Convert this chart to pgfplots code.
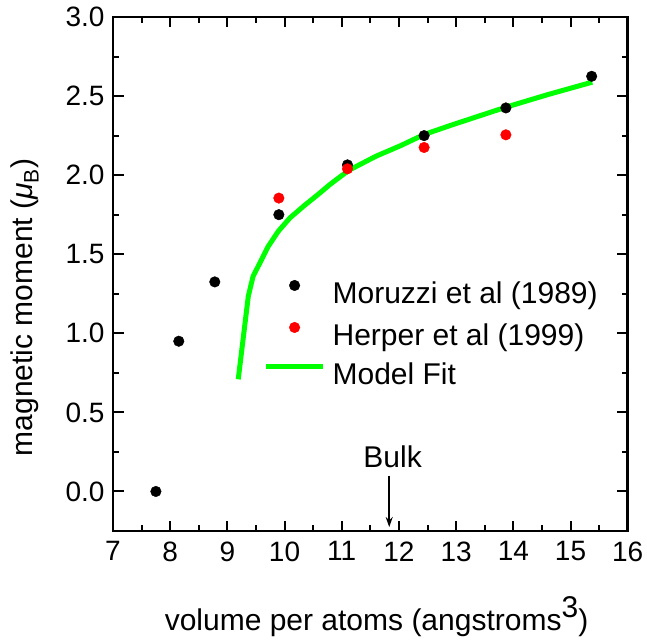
\documentclass[border=0pt]{standalone}
\usepackage{fontspec}
\setmainfont{Liberation Sans}
\usepackage{pgfplots}
\pgfplotsset{compat=1.18}
\usetikzlibrary{arrows.meta}
\definecolor{fitgreen}{RGB}{0,255,0}
\definecolor{hred}{RGB}{255,0,0}
\pgfplotsset{
  dotlegend/.style={legend image code/.code={\draw[yshift=10.7pt,##1] plot coordinates {(28.5pt,0pt)};}},
  linelegend/.style={legend image code/.code={\draw[yshift=10.7pt,##1] (0pt,0pt) -- (57pt,0pt);}},
}
\begin{document}
\begin{tikzpicture}[x=1pt,y=1pt]
\useasboundingbox (0,0) rectangle (647,643);
\begin{axis}[
  at={(113pt,112pt)}, anchor=south west,
  width=514.7pt, height=514pt, scale only axis,
  xmin=7, xmax=16, ymin=-0.25, ymax=3.0,
  xtick={7,8,...,16}, ytick={0,0.5,...,3.0},
  minor x tick num=1, minor y tick num=1,
  tick align=inside,
  major tick length=10.5pt, minor tick length=6pt,
  every tick/.style={black, line width=2pt},
  axis line style={line width=2.5pt},
  /pgf/number format/assume math mode=true,
  yticklabel style={/pgf/number format/.cd, fixed, fixed zerofill, precision=1, /tikz/.cd, font=\fontsize{28}{28}\selectfont, xshift=-5pt},
  xticklabel style={font=\fontsize{28}{28}\selectfont, yshift=-7pt},
  legend style={at={(axis description cs:0.2926,0.488)}, anchor=north west, draw=none, fill=none,
    font=\fontsize{30}{36}\selectfont, row sep=13pt, inner sep=0pt, outer sep=0pt,
    nodes={inner sep=0pt, text height=20pt, text depth=6pt}, column sep=7pt},
  legend cell align=left,
  clip=false,
]
\addplot[only marks, mark=*, mark size=5.3pt, black, mark options={fill=black, draw=black}, dotlegend]
  coordinates {(7.75,0.0) (8.15,0.95) (8.78,1.325) (9.90,1.75) (11.10,2.065) (12.44,2.25) (13.87,2.425) (15.37,2.625)};
\addlegendentry{Moruzzi et al (1989)}
\addplot[only marks, mark=*, mark size=5.3pt, hred, mark options={fill=hred, draw=hred}, dotlegend]
  coordinates {(9.90,1.855) (11.10,2.04) (12.44,2.175) (13.87,2.255)};
\addlegendentry{Herper et al (1999)}
\addplot[fitgreen, line width=5pt, no marks, line join=round, linelegend]
  coordinates {(9.19,0.709) (9.366,1.235) (9.45,1.361) (9.57,1.446) (9.716,1.551) (9.89,1.645) (10.095,1.730) (10.33,1.803) (10.62,1.888) (10.79,1.94) (11.12,2.03) (11.6,2.12) (12.02,2.185) (12.44,2.257) (12.93,2.318) (13.41,2.375) (13.89,2.432) (14.61,2.51) (15.38,2.588)};
\addlegendentry{Model Fit}
\node[anchor=base, font=\fontsize{30}{36}\selectfont] at (axis cs:11.89,0.152) {Bulk};
\draw[-{Stealth[length=10pt,width=7pt]}, line width=1.5pt] (axis cs:11.83,0.1) -- (axis cs:11.83,-0.225);
\node[rotate=90, font=\fontsize{30}{36}\selectfont] at (axis description cs:-0.171,0.435) {magnetic moment ({\itshape μ}\textsubscript{B})};
\node[anchor=base, font=\fontsize{30}{36}\selectfont] at (axis description cs:0.512,-0.193) {volume per atoms (angstroms\raisebox{13pt}{3})};
\end{axis}
\end{tikzpicture}
\end{document}
